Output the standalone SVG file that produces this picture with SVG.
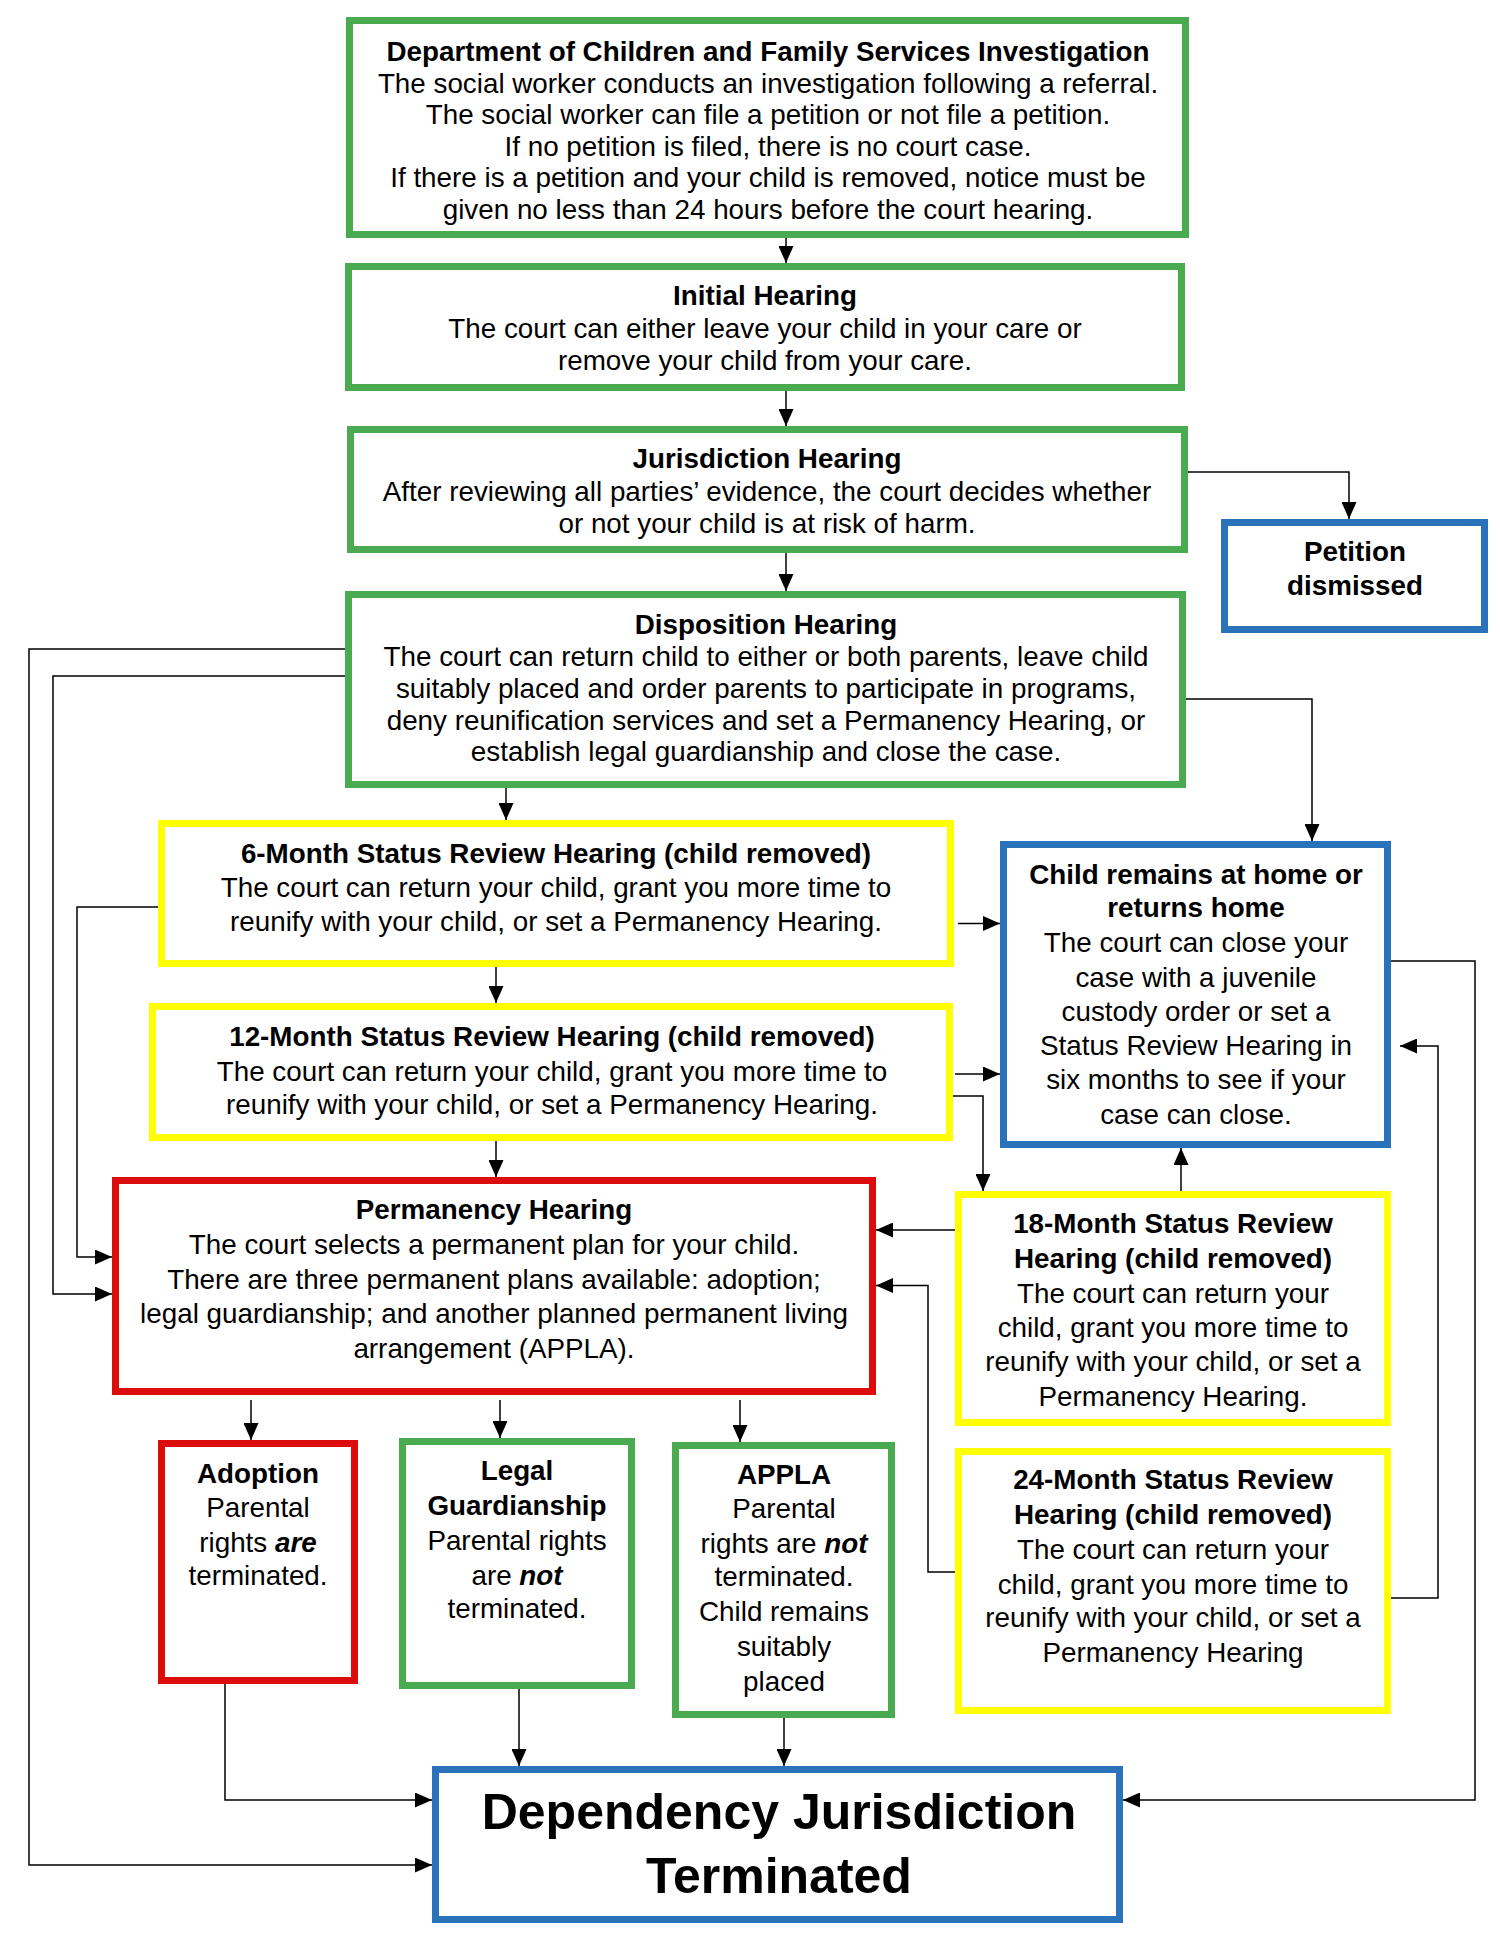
<svg xmlns="http://www.w3.org/2000/svg" width="1500" height="1942" viewBox="0 0 1500 1942">
<style>
.box{fill:#fff;stroke-width:7}
.g{stroke:#4AAA4F}
.y{stroke:#FFFF00}
.r{stroke:#DC0C0C}
.b{stroke:#2A72BA}
text{font-family:"Liberation Sans",Arial,Helvetica,sans-serif;font-size:27.8px;fill:#000;text-anchor:middle}
.t{font-weight:bold}
.bi{font-weight:bold;font-style:italic}
.big{font-size:50px;font-weight:bold}
.c{fill:none;stroke:#000;stroke-width:1.5}
</style>
<defs>
<marker id="ah" markerUnits="userSpaceOnUse" markerWidth="17" markerHeight="15" refX="17" refY="7.5" orient="auto">
<path d="M0,0 L17,7.5 L0,15 z" fill="#000"/>
</marker>
</defs>
<rect width="1500" height="1942" fill="#fff"/>
<g id="connectors">
<path class="c" d="M786,238 V263" marker-end="url(#ah)"/>
<path class="c" d="M786,391 V426" marker-end="url(#ah)"/>
<path class="c" d="M786,553 V591" marker-end="url(#ah)"/>
<path class="c" d="M1188,472 H1349 V519" marker-end="url(#ah)"/>
<path class="c" d="M506,788 V820" marker-end="url(#ah)"/>
<path class="c" d="M1186,699 H1312 V841" marker-end="url(#ah)"/>
<path class="c" d="M345,649 H29 V1865 H432" marker-end="url(#ah)"/>
<path class="c" d="M345,676 H53 V1294 H112" marker-end="url(#ah)"/>
<path class="c" d="M158,907 H77 V1257 H112" marker-end="url(#ah)"/>
<path class="c" d="M958,923.5 H1000" marker-end="url(#ah)"/>
<path class="c" d="M496,967 V1003" marker-end="url(#ah)"/>
<path class="c" d="M955,1074 H1000" marker-end="url(#ah)"/>
<path class="c" d="M953,1096 H983 V1191" marker-end="url(#ah)"/>
<path class="c" d="M496,1141 V1177" marker-end="url(#ah)"/>
<path class="c" d="M1181,1191 V1148" marker-end="url(#ah)"/>
<path class="c" d="M955,1230 H876" marker-end="url(#ah)"/>
<path class="c" d="M955,1572 H928 V1285.5 H876" marker-end="url(#ah)"/>
<path class="c" d="M1391,1598 H1438 V1046 H1400" marker-end="url(#ah)"/>
<path class="c" d="M1391,961 H1475 V1800 H1123" marker-end="url(#ah)"/>
<path class="c" d="M251,1400 V1440" marker-end="url(#ah)"/>
<path class="c" d="M500,1400 V1438" marker-end="url(#ah)"/>
<path class="c" d="M740,1400 V1442" marker-end="url(#ah)"/>
<path class="c" d="M225,1684 V1800 H432" marker-end="url(#ah)"/>
<path class="c" d="M519,1689 V1766" marker-end="url(#ah)"/>
<path class="c" d="M784,1718 V1766" marker-end="url(#ah)"/>
</g>
<g id="investigation">
<rect class="box g" x="349.5" y="20.5" width="836" height="214"/>
<text x="768" y="61" class="t">Department of Children and Family Services Investigation</text>
<text x="768" y="92.6">The social worker conducts an investigation following a referral.</text>
<text x="768" y="124.2">The social worker can file a petition or not file a petition.</text>
<text x="768" y="155.8">If no petition is filed, there is no court case.</text>
<text x="768" y="187.4">If there is a petition and your child is removed, notice must be</text>
<text x="768" y="219">given no less than 24 hours before the court hearing.</text>
</g>
<g id="initial">
<rect class="box g" x="348.5" y="266.5" width="833" height="121"/>
<text x="765" y="305" class="t">Initial Hearing</text>
<text x="765" y="338">The court can either leave your child in your care or</text>
<text x="765" y="370">remove your child from your care.</text>
</g>
<g id="jurisdiction">
<rect class="box g" x="350.5" y="429.5" width="834" height="120"/>
<text x="767" y="468" class="t">Jurisdiction Hearing</text>
<text x="767" y="500.5">After reviewing all parties’ evidence, the court decides whether</text>
<text x="767" y="533">or not your child is at risk of harm.</text>
</g>
<g id="petition">
<rect class="box b" x="1224.5" y="522.5" width="260" height="107"/>
<text x="1355" y="561" class="t">Petition</text>
<text x="1355" y="595" class="t">dismissed</text>
</g>
<g id="disposition">
<rect class="box g" x="348.5" y="594.5" width="834" height="190"/>
<text x="766" y="634" class="t">Disposition Hearing</text>
<text x="766" y="665.5">The court can return child to either or both parents, leave child</text>
<text x="766" y="698">suitably placed and order parents to participate in programs,</text>
<text x="766" y="730">deny reunification services and set a Permanency Hearing, or</text>
<text x="766" y="761">establish legal guardianship and close the case.</text>
</g>
<g id="month6">
<rect class="box y" x="161.5" y="823.5" width="789" height="140"/>
<text x="556" y="862.5" class="t">6-Month Status Review Hearing (child removed)</text>
<text x="556" y="897">The court can return your child, grant you more time to</text>
<text x="556" y="930.6">reunify with your child, or set a Permanency Hearing.</text>
</g>
<g id="month12">
<rect class="box y" x="152.5" y="1006.5" width="797" height="131"/>
<text x="552" y="1046" class="t">12-Month Status Review Hearing (child removed)</text>
<text x="552" y="1080.5">The court can return your child, grant you more time to</text>
<text x="552" y="1114">reunify with your child, or set a Permanency Hearing.</text>
</g>
<g id="home">
<rect class="box b" x="1003.5" y="844.5" width="384" height="300"/>
<text x="1196" y="883.5" class="t">Child remains at home or</text>
<text x="1196" y="917" class="t">returns home</text>
<text x="1196" y="951.6">The court can close your</text>
<text x="1196" y="987">case with a juvenile</text>
<text x="1196" y="1020.5">custody order or set a</text>
<text x="1196" y="1055">Status Review Hearing in</text>
<text x="1196" y="1089">six months to see if your</text>
<text x="1196" y="1124">case can close.</text>
</g>
<g id="permanency">
<rect class="box r" x="115.5" y="1180.5" width="757" height="211"/>
<text x="494" y="1219" class="t">Permanency Hearing</text>
<text x="494" y="1254">The court selects a permanent plan for your child.</text>
<text x="494" y="1288.5">There are three permanent plans available: adoption;</text>
<text x="494" y="1323">legal guardianship; and another planned permanent living</text>
<text x="494" y="1358">arrangement (APPLA).</text>
</g>
<g id="month18">
<rect class="box y" x="958.5" y="1194.5" width="429" height="228"/>
<text x="1173" y="1233" class="t">18-Month Status Review</text>
<text x="1173" y="1268" class="t">Hearing (child removed)</text>
<text x="1173" y="1302.5">The court can return your</text>
<text x="1173" y="1337">child, grant you more time to</text>
<text x="1173" y="1371">reunify with your child, or set a</text>
<text x="1173" y="1405.5">Permanency Hearing.</text>
</g>
<g id="month24">
<rect class="box y" x="958.5" y="1451.5" width="429" height="259"/>
<text x="1173" y="1489" class="t">24-Month Status Review</text>
<text x="1173" y="1524" class="t">Hearing (child removed)</text>
<text x="1173" y="1559">The court can return your</text>
<text x="1173" y="1594">child, grant you more time to</text>
<text x="1173" y="1627">reunify with your child, or set a</text>
<text x="1173" y="1662">Permanency Hearing</text>
</g>
<g id="adoption">
<rect class="box r" x="161.5" y="1443.5" width="193" height="237"/>
<text x="258" y="1483" class="t">Adoption</text>
<text x="258" y="1517">Parental</text>
<text x="258" y="1551.5">rights <tspan class="bi">are</tspan></text>
<text x="258" y="1585">terminated.</text>
</g>
<g id="guardianship">
<rect class="box g" x="402.5" y="1441.5" width="229" height="244"/>
<text x="517" y="1480" class="t">Legal</text>
<text x="517" y="1515" class="t">Guardianship</text>
<text x="517" y="1550">Parental rights</text>
<text x="517" y="1585">are <tspan class="bi">not</tspan></text>
<text x="517" y="1618">terminated.</text>
</g>
<g id="appla">
<rect class="box g" x="675.5" y="1445.5" width="216" height="269"/>
<text x="784" y="1484" class="t">APPLA</text>
<text x="784" y="1518">Parental</text>
<text x="784" y="1552.5">rights are <tspan class="bi">not</tspan></text>
<text x="784" y="1586">terminated.</text>
<text x="784" y="1621">Child remains</text>
<text x="784" y="1656">suitably</text>
<text x="784" y="1691">placed</text>
</g>
<g id="terminated">
<rect class="box b" x="435.5" y="1769.5" width="684" height="150"/>
<text x="779" y="1829" class="big">Dependency Jurisdiction</text>
<text x="779" y="1893" class="big">Terminated</text>
</g>
</svg>
